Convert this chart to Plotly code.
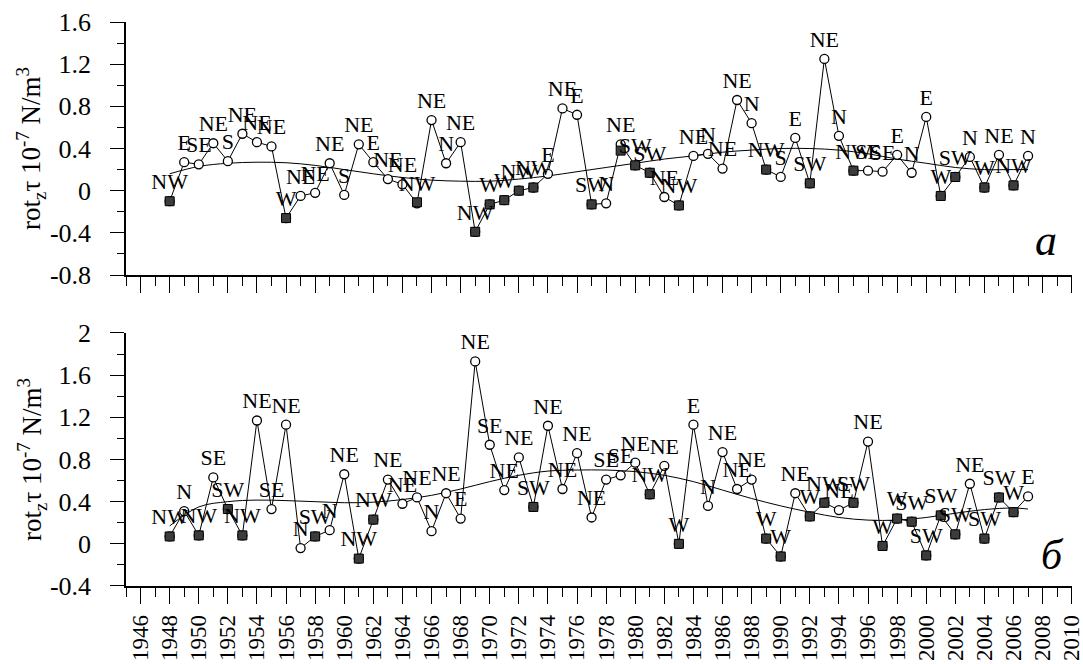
import plotly.graph_objects as go

FONT = "Liberation Serif"

years = list(range(1948, 2008))

# Panel a
vals_a = [-0.10, 0.27, 0.25, 0.45, 0.28, 0.54, 0.46, 0.42, -0.26, -0.05,
          -0.02, 0.26, -0.04, 0.44, 0.27, 0.11, 0.06, -0.12, 0.67, 0.26,
          0.46, -0.39, -0.13, -0.09, 0.00, 0.03, 0.16, 0.78, 0.72, -0.13,
          -0.12, 0.44, 0.24, 0.17, -0.06, -0.14, 0.33, 0.35, 0.21, 0.86,
          0.64, 0.20, 0.13, 0.50, 0.07, 1.25, 0.52, 0.19, 0.19, 0.18,
          0.34, 0.17, 0.70, -0.05, 0.13, 0.32, 0.03, 0.34, 0.05, 0.33]
labels_a = ["NW", "E", "SE", "NE", "S", "NE", "NE", "NE", "W", "NE",
            "NE", "NE", "S", "NE", "E", "NE", "NE", "NW", "NE", "N",
            "NE", "NW", "W", "W", "NW", "NW", "E", "NE", "E", "SW",
            "N", "NE", "SW", "SW", "NE", "NW", "NE", "N", "NE", "NE",
            "N", "NW", "S", "E", "SW", "NE", "N", "NW", "SE", "SE",
            "E", "N", "E", "W", "SW", "N", "W", "NE", "NW", "N"]
sq_a_years = [1948, 1956, 1965, 1969, 1970, 1971, 1972, 1973, 1977, 1979,
              1980, 1981, 1983, 1989, 1992, 1995, 2001, 2002, 2004, 2006]
sq_a_vals = [-0.10, -0.26, -0.11, -0.39, -0.13, -0.09, 0.00, 0.03, -0.13, 0.38,
             0.24, 0.17, -0.14, 0.20, 0.07, 0.19, -0.05, 0.13, 0.03, 0.05]
trend_a_years = [1948, 1950, 1952, 1954, 1956, 1958, 1960, 1962, 1964, 1966,
                 1968, 1970, 1972, 1974, 1976, 1978, 1980, 1982, 1984, 1986,
                 1988, 1990, 1992, 1994, 1996, 1998, 2000, 2002, 2004, 2006, 2007]
trend_a_vals = [0.16, 0.23, 0.26, 0.27, 0.265, 0.24, 0.20, 0.16, 0.125, 0.10,
                0.09, 0.09, 0.11, 0.14, 0.18, 0.22, 0.26, 0.30, 0.33, 0.365,
                0.385, 0.40, 0.40, 0.385, 0.35, 0.30, 0.26, 0.22, 0.20, 0.20, 0.20]

# Panel b
vals_b = [0.07, 0.31, 0.08, 0.63, 0.33, 0.08, 1.17, 0.33, 1.13, -0.04,
          0.07, 0.13, 0.66, -0.14, 0.23, 0.61, 0.38, 0.44, 0.12, 0.48,
          0.24, 1.73, 0.94, 0.51, 0.82, 0.35, 1.12, 0.52, 0.86, 0.25,
          0.61, 0.65, 0.77, 0.47, 0.74, 0.00, 1.13, 0.36, 0.87, 0.52,
          0.61, 0.05, -0.12, 0.48, 0.26, 0.39, 0.32, 0.39, 0.97, -0.02,
          0.24, 0.21, -0.11, 0.27, 0.09, 0.57, 0.05, 0.44, 0.30, 0.45]
labels_b = ["NW", "N", "NW", "SE", "SW", "NW", "NE", "SE", "NE", "N",
            "SW", "N", "NE", "NW", "NW", "NE", "NE", "NE", "N", "NE",
            "E", "NE", "SE", "NE", "NE", "SW", "NE", "NE", "NE", "NE",
            "SE", "SE", "NE", "NW", "NE", "W", "E", "N", "NE", "NE",
            "NE", "W", "W", "NE", "W", "NW", "NE", "SW", "NE", "W",
            "W", "SW", "SW", "SW", "SW", "NE", "SW", "SW", "W", "E"]
sq_b_years = [1948, 1950, 1952, 1953, 1958, 1961, 1962, 1973, 1981, 1983,
              1989, 1990, 1992, 1993, 1995, 1997, 1998, 1999, 2000, 2001,
              2002, 2004, 2005, 2006]
sq_b_vals = [0.07, 0.08, 0.33, 0.08, 0.07, -0.14, 0.23, 0.35, 0.47, 0.00,
             0.05, -0.12, 0.26, 0.39, 0.39, -0.02, 0.24, 0.21, -0.11, 0.27,
             0.09, 0.05, 0.44, 0.30]
trend_b_years = [1948, 1950, 1952, 1954, 1956, 1958, 1960, 1962, 1964, 1966,
                 1968, 1970, 1972, 1974, 1976, 1978, 1980, 1982, 1984, 1986,
                 1988, 1990, 1992, 1994, 1996, 1998, 2000, 2002, 2004, 2006, 2007]
trend_b_vals = [0.17, 0.35, 0.40, 0.415, 0.41, 0.40, 0.39, 0.395, 0.42, 0.46,
                0.52, 0.59, 0.65, 0.69, 0.70, 0.70, 0.685, 0.65, 0.59, 0.51,
                0.43, 0.36, 0.30, 0.25, 0.225, 0.225, 0.25, 0.29, 0.325, 0.34, 0.33]

xtick_vals = list(range(1946, 2011, 2))
xtick_text = [str(v) for v in xtick_vals]
ytick_a_vals = [-0.8, -0.4, 0, 0.4, 0.8, 1.2, 1.6]
ytick_a_text = ["-0.8", "-0.4", "0", "0.4", "0.8", "1.2", "1.6"]
ytick_b_vals = [-0.4, 0, 0.4, 0.8, 1.2, 1.6, 2]
ytick_b_text = ["-0.4", "0", "0.4", "0.8", "1.2", "1.6", "2"]

fig = go.Figure()


def add_panel(xa, ya, vals, labels, sqx, sqy, tx, ty):
    fig.add_trace(go.Scatter(x=tx, y=ty, mode="lines", line=dict(color="black", width=1, shape="spline"),
                             xaxis=xa, yaxis=ya, hoverinfo="skip"))
    fig.add_trace(go.Scatter(x=years, y=vals, mode="lines+markers",
                             line=dict(color="black", width=1),
                             marker=dict(symbol="circle", size=9, color="white",
                                         line=dict(color="black", width=1.3)),
                             xaxis=xa, yaxis=ya))
    fig.add_trace(go.Scatter(x=sqx, y=sqy, mode="markers",
                             marker=dict(symbol="square", size=9, color="#3c3c3c",
                                         line=dict(color="black", width=1)),
                             xaxis=xa, yaxis=ya))
    fig.add_trace(go.Scatter(x=years, y=vals, mode="markers+text", text=labels,
                             textposition="top center",
                             textfont=dict(family=FONT, size=22, color="black"),
                             marker=dict(size=9, opacity=0),
                             cliponaxis=False, xaxis=xa, yaxis=ya))


add_panel("x", "y", vals_a, labels_a, sq_a_years, sq_a_vals, trend_a_years, trend_a_vals)
add_panel("x2", "y2", vals_b, labels_b, sq_b_years, sq_b_vals, trend_b_years, trend_b_vals)

xcommon = dict(range=[1945, 2010.02], showline=True, linecolor="black", linewidth=1.5,
               ticks="outside", ticklen=16, tickwidth=1.2, tickcolor="black",
               tickvals=xtick_vals, ticktext=xtick_text,
               minor=dict(dtick=1, tick0=1945, ticks="outside", ticklen=9,
                          tickwidth=1.2, tickcolor="black", showgrid=False),
               showgrid=False, zeroline=False, mirror=False, automargin=False,
               ticklabeloverflow="allow", ticklabelstandoff=2,
               tickfont=dict(family=FONT, size=23, color="black"), tickangle=-90)
ytitle = "rot<sub>z</sub>τ 10<sup>-7</sup> N/m<sup>3</sup>"
ycommon = dict(showline=True, linecolor="black", linewidth=1.5,
               ticks="outside", ticklen=14, tickwidth=1.2, tickcolor="black",
               minor=dict(dtick=0.2, tick0=0, ticks="outside", ticklen=7,
                          tickwidth=1.2, tickcolor="black", showgrid=False),
               showgrid=False, zeroline=False, automargin=False,
               ticklabeloverflow="allow",
               tickfont=dict(family=FONT, size=26, color="black"),
               ticklabelstandoff=14,
               title=dict(text=ytitle, font=dict(family=FONT, size=27, color="black"), standoff=0))

fig.update_layout(
    width=1083, height=664,
    margin=dict(l=126, r=11, t=22, b=78),
    paper_bgcolor="white", plot_bgcolor="white",
    showlegend=False,
    font=dict(family=FONT, color="black"),
    xaxis=dict(xcommon, anchor="y", showticklabels=False),
    yaxis=dict(ycommon, domain=[0.5514, 1], anchor="x", range=[-0.8, 1.6],
               tickvals=ytick_a_vals, ticktext=ytick_a_text),
    xaxis2=dict(xcommon, anchor="y2", showticklabels=True),
    yaxis2=dict(ycommon, domain=[0, 0.4486], anchor="x2", range=[-0.4, 2],
                tickvals=ytick_b_vals, ticktext=ytick_b_text),
    annotations=[
        dict(text="<i>а</i>", x=2008.2, y=-0.47, xref="x", yref="y", showarrow=False,
             font=dict(family=FONT, size=44, color="black")),
        dict(text="<i>б</i>", x=2008.7, y=-0.11, xref="x2", yref="y2", showarrow=False,
             font=dict(family=FONT, size=42, color="black")),
    ],
)

fig.write_html("out.html", config={"displayModeBar": False},
               post_script="document.body.style.margin='0';document.body.style.overflow='hidden';")
